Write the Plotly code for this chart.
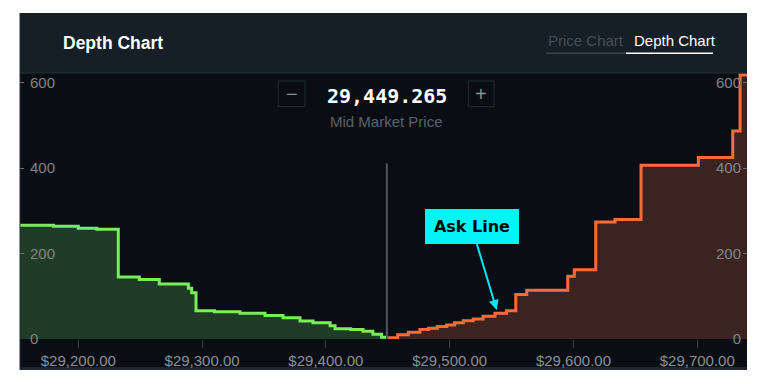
import plotly.graph_objects as go

# ---------------- data ----------------
MID_PRICE = 29449.265
MID_LABEL = "29,449.265"

bid_price = [29150.0, 29180.0, 29200.0, 29215.0, 29232.3, 29249.3, 29265.4, 29288.9,
             29291.6, 29295.1, 29310.0, 29330.6, 29350.8, 29365.4, 29379.1, 29389.6,
             29403.4, 29407.4, 29420.0, 29430.0, 29438.0, 29445.0, 29449.265]
bid_depth = [266, 264, 259, 257, 145, 139, 129, 119,
             108, 66, 64, 60, 55, 50, 42, 38,
             31, 24, 22, 18, 11, 4, 0]

ask_price = [29449.265, 29452.0, 29458.0, 29466.6, 29476.0, 29483.0, 29490.0, 29497.6,
             29504.0, 29511.0, 29519.0, 29527.0, 29536.6, 29546.0, 29553.4, 29562.3,
             29595.4, 29600.7, 29618.0, 29633.6, 29654.6, 29700.9, 29728.7, 29734.6, 29745.0]
ask_depth = [0, 3, 10, 16, 22, 25, 29, 33,
             38, 43, 47, 53, 60, 66, 104, 114,
             147, 162, 274, 280, 407, 425, 487, 618, 618]

x_tickvals = [29200, 29300, 29400, 29500, 29600, 29700]
x_ticktext = ["$29,200.00", "$29,300.00", "$29,400.00", "$29,500.00", "$29,600.00", "$29,700.00"]
y_tickvals = [0, 200, 400, 600]
y_ticktext = ["0", "200", "400", "600"]

MID_LINE_TOP = 411
ARROW_PRICE, ARROW_DEPTH = 29538.0, 68

# ---------------- styling ----------------
PLOT_BG = "#0a0e14"
HEADER_BG = "#161e27"
TICK_COL = "#7d848c"
FONT = "Liberation Sans, Arial, sans-serif"

fig = go.Figure()

fig.add_trace(go.Scatter(
    x=bid_price, y=bid_depth, mode="lines", line=dict(color="#79ee5a", width=3, shape="hv"),
    fill="tozeroy", fillcolor="#213c26", hoverinfo="skip", showlegend=False))
fig.add_trace(go.Scatter(
    x=ask_price, y=ask_depth, mode="lines", line=dict(color="#ff6a3a", width=3, shape="hv"),
    fill="tozeroy", fillcolor="#3b2420", hoverinfo="skip", showlegend=False))
# invisible trace to activate right axis
fig.add_trace(go.Scatter(x=[MID_PRICE], y=[0], yaxis="y2", mode="markers",
                         marker=dict(opacity=0), hoverinfo="skip", showlegend=False))

# mid price line
fig.add_shape(type="line", xref="x", yref="y", x0=MID_PRICE, x1=MID_PRICE, y0=0, y1=MID_LINE_TOP,
              line=dict(color="#50575f", width=2), layer="above")

def py(p):
    return (339 - p) / 266.0

def px(p):
    return (p - 20) / 727.0

shapes = [
    # header
    dict(type="rect", xref="paper", yref="paper", x0=0, x1=1, y0=1, y1=py(13),
         fillcolor=HEADER_BG, line=dict(width=0), layer="below"),
    dict(type="line", xref="paper", yref="paper", x0=0, x1=1, y0=1, y1=1,
         line=dict(color="#262e37", width=1), layer="above"),
    # bottom band
    dict(type="rect", xref="paper", yref="paper", x0=0, x1=1, y0=py(370), y1=0,
         fillcolor=PLOT_BG, line=dict(width=0), layer="below"),
    dict(type="rect", xref="paper", yref="paper", x0=0, x1=1, y0=py(370), y1=py(367),
         fillcolor="#1e262f", line=dict(width=0), layer="below"),
    # left border
    dict(type="line", xref="paper", yref="paper", x0=0, x1=0, y0=py(370), y1=py(13),
         line=dict(color="#242c35", width=1), layer="above"),
    # tabs underline
    dict(type="line", xref="paper", yref="paper", x0=px(546), x1=px(626), y0=py(53.3), y1=py(53.3),
         line=dict(color="#3a424b", width=1.5)),
    dict(type="line", xref="paper", yref="paper", x0=px(626), x1=px(713), y0=py(53.3), y1=py(53.3),
         line=dict(color="#ffffff", width=1.5)),
    # +/- buttons
    dict(type="rect", xref="paper", yref="paper", x0=px(278.3), x1=px(305), y0=py(106.7), y1=py(81),
         fillcolor=PLOT_BG, line=dict(color="#232a32", width=1)),
    dict(type="rect", xref="paper", yref="paper", x0=px(468.3), x1=px(494), y0=py(106.7), y1=py(81),
         fillcolor=PLOT_BG, line=dict(color="#232a32", width=1)),
]
for s in shapes:
    fig.add_shape(**s)

annotations = [
    dict(text="Depth Chart", x=px(61), y=py(43), xref="paper", yref="paper",
         xanchor="left", yanchor="middle", showarrow=False,
         font=dict(family=FONT, size=17.5, color="#ffffff", weight="bold")),
    dict(text="Price Chart", x=px(546), y=py(40), xref="paper", yref="paper",
         xanchor="left", yanchor="middle", showarrow=False,
         font=dict(family=FONT, size=15, color="#454d56")),
    dict(text="Depth Chart", x=px(631.5), y=py(40), xref="paper", yref="paper",
         xanchor="left", yanchor="middle", showarrow=False,
         font=dict(family=FONT, size=15, color="#ffffff")),
    dict(text=MID_LABEL, x=MID_PRICE, y=py(96), xref="x", yref="paper",
         xanchor="center", yanchor="middle", showarrow=False,
         font=dict(family="DejaVu Sans Mono, monospace", size=20, color="#ffffff", weight="bold")),
    dict(text="Mid Market Price", x=MID_PRICE, y=py(121.7), xref="x", yref="paper",
         xanchor="center", yanchor="middle", showarrow=False,
         font=dict(family=FONT, size=15, color="#5b626a")),
    dict(text="−", x=px(291.6), y=py(94), xref="paper", yref="paper",
         xanchor="center", yanchor="middle", showarrow=False,
         font=dict(family=FONT, size=20, color="#8a9098")),
    dict(text="+", x=px(481.2), y=py(94), xref="paper", yref="paper",
         xanchor="center", yanchor="middle", showarrow=False,
         font=dict(family=FONT, size=20, color="#8a9098")),
    dict(text="Ask Line", x=ARROW_PRICE, y=ARROW_DEPTH, xref="x", yref="y",
         ax=-25, ay=-83, axref="pixel", ayref="pixel",
         showarrow=True, arrowhead=2, arrowsize=1, arrowwidth=2, arrowcolor="#00e8f0",
         bgcolor="#00f4f8", bordercolor="#00f4f8", borderwidth=1, borderpad=4,
         width=84, height=25,
         font=dict(family="Comic Sans MS, DejaVu Sans, sans-serif", size=16, color="#000000",
                   weight="bold")),
]
for a in annotations:
    fig.add_annotation(**a)

fig.update_layout(
    width=768, height=384,
    margin=dict(l=12, r=29, t=65, b=53, pad=0),
    paper_bgcolor="#ffffff", plot_bgcolor=PLOT_BG,
    showlegend=False,
    xaxis=dict(range=[29152.9, 29740.2], tickvals=x_tickvals, ticktext=x_ticktext,
               ticks="outside", ticklen=8, tickcolor="#353c44", tickwidth=1,
               tickfont=dict(family=FONT, size=15, color="#898f97"),
               showgrid=False, zeroline=False, showline=False, fixedrange=True),
    yaxis=dict(range=[0, 622.7], tickvals=y_tickvals, ticktext=y_ticktext,
               ticks="inside", ticklen=4, tickcolor="#6b7279", tickwidth=1,
               ticklabelposition="inside", ticklabeloverflow="allow", ticklabelstandoff=6,
               tickfont=dict(family=FONT, size=15, color=TICK_COL),
               showgrid=False, zeroline=False, showline=False),
    yaxis2=dict(range=[0, 622.7], tickvals=y_tickvals, ticktext=y_ticktext, overlaying="y",
                side="right", ticks="inside", ticklen=4, tickcolor="#6b7279", tickwidth=1,
                ticklabelposition="inside", ticklabeloverflow="allow", ticklabelstandoff=2,
                tickfont=dict(family=FONT, size=15, color=TICK_COL),
                showgrid=False, zeroline=False, showline=False),
)

fig.write_html("out.html")
